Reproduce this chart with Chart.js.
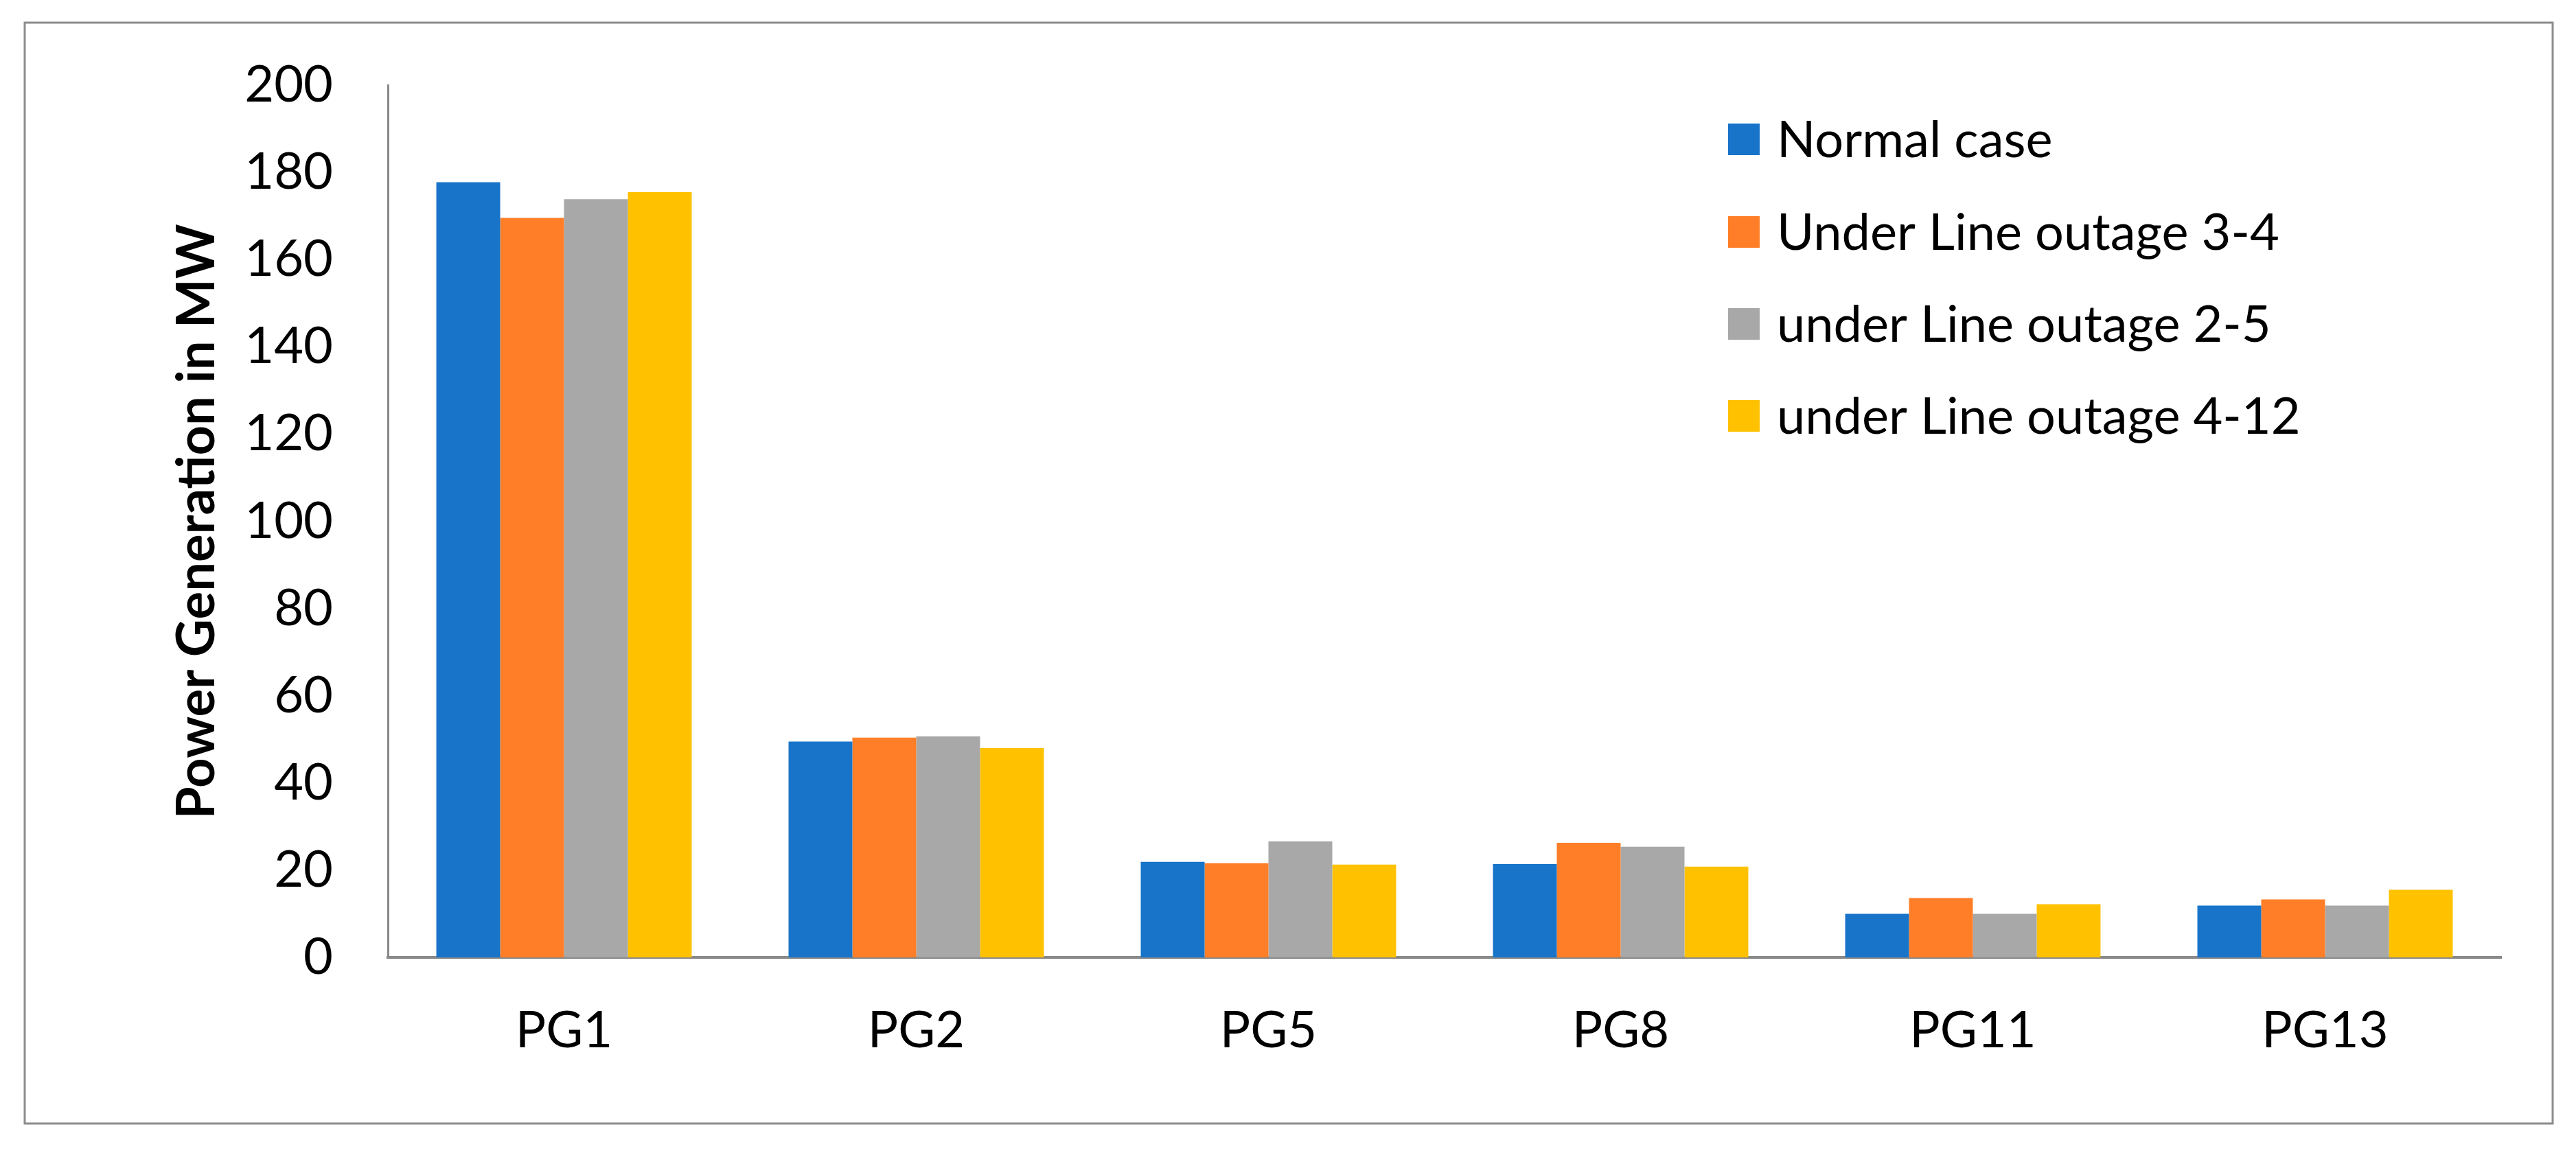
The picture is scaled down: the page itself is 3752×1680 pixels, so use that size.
<!DOCTYPE html>
<html>
<head>
<meta charset="utf-8">
<script src="https://cdn.jsdelivr.net/npm/chart.js@4/dist/chart.umd.min.js"></script>
<style>
  html, body { margin: 0; padding: 0; background: #ffffff; }
  #wrap { position: relative; width: 3752px; height: 1680px; }
  canvas { display: block; }
</style>
</head>
<body>
<div id="wrap"><canvas id="c" width="3752" height="1680"></canvas></div>
<script>
const categories = ["PG1", "PG2", "PG5", "PG8", "PG11", "PG13"];
const seriesNames = ["Normal case", "Under Line outage 3-4", "under Line outage 2-5", "under Line outage 4-12"];
const normalCase = [177.8, 49.5, 21.9, 21.4, 10.0, 11.9];
const outage34   = [169.6, 50.4, 21.6, 26.3, 13.6, 13.3];
const outage25   = [173.9, 50.7, 26.6, 25.4, 10.0, 11.9];
const outage412  = [175.5, 48.0, 21.3, 20.8, 12.2, 15.5];
const yTicks = [0, 20, 40, 60, 80, 100, 120, 140, 160, 180, 200];
const colors = ["#1874C9", "#FF7E27", "#A8A8A8", "#FFC100"];

const FONT = "Lato, 'Open Sans', sans-serif";

const frameAndLegend = {
  id: 'frameAndLegend',
  beforeDraw(chart) {
    const ctx = chart.ctx;
    ctx.save();
    ctx.fillStyle = '#ffffff';
    ctx.fillRect(0, 0, chart.width, chart.height);
    ctx.restore();
  },
  afterDraw(chart) {
    const ctx = chart.ctx;
    ctx.save();
    // outer frame
    ctx.strokeStyle = '#8c8c8c';
    ctx.lineWidth = 3;
    ctx.strokeRect(36, 33, 3682, 1604);
    // legend inside the plot area
    const x0 = 2517, sw = 46, textX = 2588;
    const rowY = [203, 338, 472, 606];
    ctx.font = "74px " + FONT;
    ctx.textBaseline = 'middle';
    ctx.textAlign = 'left';
    chart.data.datasets.forEach((ds, i) => {
      const cy = rowY[i];
      ctx.fillStyle = ds.backgroundColor;
      ctx.fillRect(x0, cy - sw / 2, sw, sw);
      ctx.fillStyle = '#000000';
      ctx.fillText(ds.label, textX, cy + 2);
    });
    ctx.restore();
  }
};

Chart.defaults.color = '#000000';

new Chart(document.getElementById('c'), {
  type: 'bar',
  data: {
    labels: categories,
    datasets: [
      { label: seriesNames[0], data: normalCase, backgroundColor: colors[0] },
      { label: seriesNames[1], data: outage34,   backgroundColor: colors[1] },
      { label: seriesNames[2], data: outage25,   backgroundColor: colors[2] },
      { label: seriesNames[3], data: outage412,  backgroundColor: colors[3] }
    ]
  },
  options: {
    responsive: false,
    devicePixelRatio: 1,
    animation: false,
    layout: { padding: { left: 242, right: 109, top: 117, bottom: 0 } },
    datasets: { bar: { categoryPercentage: 0.725, barPercentage: 1.0, borderWidth: 0 } },
    plugins: {
      legend: { display: false },
      tooltip: { enabled: false }
    },
    scales: {
      x: {
        grid: { display: false, drawTicks: false },
        border: { display: true, color: '#898989', width: 4 },
        ticks: { font: { family: FONT, size: 74 }, padding: 63, color: '#000' },
        afterFit(scale) { scale.height = 285; }
      },
      y: {
        min: 0,
        max: 200,
        afterBuildTicks(scale) { scale.ticks = yTicks.map(v => ({ value: v })); },
        grid: { display: false, drawTicks: false },
        border: { display: true, color: '#898989', width: 3 },
        ticks: { font: { family: FONT, size: 74 }, padding: 80, color: '#000' },
        title: {
          display: true,
          text: 'Power Generation in MW',
          font: { family: FONT, size: 76, weight: 'bold' },
          padding: 0,
          color: '#000'
        },
        afterFit(scale) { scale.width = 323; }
      }
    }
  },
  plugins: [frameAndLegend]
});
</script>
</body>
</html>
